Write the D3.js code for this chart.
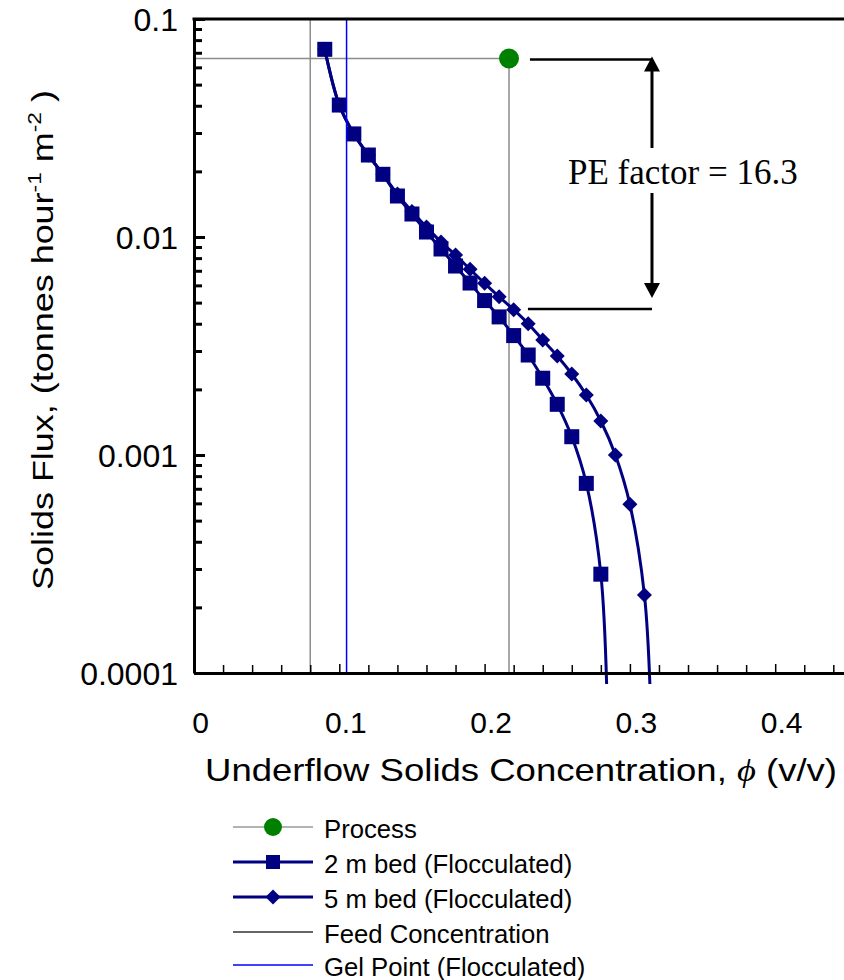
<!DOCTYPE html>
<html>
<head>
<meta charset="utf-8">
<script src="https://cdn.jsdelivr.net/npm/d3@7"></script>
<style>
  body { margin: 0; background: #fff; }
  svg { display: block; }
</style>
</head>
<body>
<svg id="chart" width="844" height="980" font-family='"Liberation Sans", Arial, sans-serif'></svg>
<script>
// ---------------- data ----------------
const xTickValues = [0, 0.1, 0.2, 0.3, 0.4];
const xTickLabels = ["0", "0.1", "0.2", "0.3", "0.4"];
const yTickValues = [0.0001, 0.001, 0.01, 0.1];
const yTickLabels = ["0.0001", "0.001", "0.01", "0.1"];

const phi2m  = [0.09,0.10,0.11,0.12,0.13,0.14,0.15,0.16,0.17,0.18,0.19,0.20,0.21,0.22,0.23,0.24,0.25,0.26,0.27,0.28];
const flux2m = [0.0726,0.0403,0.0297,0.02377,0.01939,0.01542,0.01275,0.01054,0.00881,0.00736,0.00615,0.00511,0.0043,0.00353,0.002875,0.00225,0.001708,0.001213,0.000741,0.000284];
const tailPhi2m = [0.2844], tailFlux2m = [0.00007];

const phi5m  = [0.09,0.10,0.11,0.12,0.13,0.14,0.15,0.16,0.17,0.18,0.19,0.20,0.21,0.22,0.23,0.24,0.25,0.26,0.27,0.28,0.29,0.30,0.31];
const flux5m = [0.0726,0.0403,0.0297,0.02377,0.01939,0.01574,0.01309,0.01112,0.00948,0.00826,0.00711,0.00613,0.00532,0.00464,0.0040,0.00337,0.002845,0.002353,0.001884,0.001432,0.0010,0.000594,0.000228];
const tailPhi5m = [0.3143], tailFlux5m = [0.00007];

const processPhi  = [0, 0.2168, 0.2168];
const processFlux = [0.0659, 0.0659, 0.0001];
const processMarkerIndex = 1;

const feedPhi = 0.08;
const gelPhi = 0.105;

const peLabel = "PE factor = 16.3";
const peTopFlux = 0.0652, peBottomFlux = 0.00468;
const peLineStartPhi = 0.2312, peArrowPhi = 0.3152;

const legendLabels = ["Process", "2 m bed (Flocculated)", "5 m bed (Flocculated)", "Feed Concentration", "Gel Point (Flocculated)"];

// ---------------- layout ----------------
const SANS = '"Liberation Sans", Arial, sans-serif';
const SERIF = '"Liberation Serif", "Times New Roman", serif';
const svg = d3.select("#chart");
const L = 194, T = 19, B = 673;
const x = d3.scaleLinear().domain([0, 0.45]).range([L, L + 0.45 * 1453]);
const y = d3.scaleLog().domain([0.0001, 0.1]).range([B, T]);

const navy = "#000080", green = "#008000", grey = "#8c8c8c", blue = "#0000ff";

svg.append("defs").append("clipPath").attr("id", "plotclip")
  .append("rect").attr("x", L).attr("y", T).attr("width", x(0.45) - L).attr("height", 684 - T);

const plot = svg.append("g").attr("clip-path", "url(#plotclip)");

// process lines
const procPts = processPhi.map((p, i) => [p, processFlux[i]]);
plot.append("path")
  .attr("d", d3.line().x(d => x(d[0])).y(d => y(d[1]))(procPts))
  .attr("fill", "none").attr("stroke", grey).attr("stroke-width", 1.5);

// feed line
plot.append("line")
  .attr("x1", x(feedPhi)).attr("x2", x(feedPhi)).attr("y1", y(0.1)).attr("y2", y(0.0001))
  .attr("stroke", grey).attr("stroke-width", 1.5);

// series
const smooth = d3.line().x(d => x(d[0])).y(d => y(d[1])).curve(d3.curveCatmullRom.alpha(0.5));
const pts2m = phi2m.map((p, i) => [p, flux2m[i]]);
const pts5m = phi5m.map((p, i) => [p, flux5m[i]]);
const line2m = pts2m.concat(tailPhi2m.map((p, i) => [p, tailFlux2m[i]]));
const line5m = pts5m.concat(tailPhi5m.map((p, i) => [p, tailFlux5m[i]]));

plot.append("path").attr("d", smooth(line2m))
  .attr("fill", "none").attr("stroke", navy).attr("stroke-width", 3);
plot.selectAll("rect.sq").data(pts2m).enter().append("rect")
  .attr("class", "sq")
  .attr("x", d => x(d[0]) - 7.5).attr("y", d => y(d[1]) - 7.5)
  .attr("width", 15).attr("height", 15).attr("fill", navy);

plot.append("path").attr("d", smooth(line5m))
  .attr("fill", "none").attr("stroke", navy).attr("stroke-width", 3);
const diamond = (cx, cy, r) => `M${cx},${cy - r}L${cx + r},${cy}L${cx},${cy + r}L${cx - r},${cy}Z`;
plot.selectAll("path.dm").data(pts5m).enter().append("path")
  .attr("class", "dm")
  .attr("d", d => diamond(x(d[0]), y(d[1]), 7.5)).attr("fill", navy);

// gel point
plot.append("line")
  .attr("x1", x(gelPhi)).attr("x2", x(gelPhi)).attr("y1", y(0.1)).attr("y2", y(0.0001))
  .attr("stroke", blue).attr("stroke-width", 1.5);

// process marker
plot.append("circle")
  .attr("cx", x(processPhi[processMarkerIndex])).attr("cy", y(processFlux[processMarkerIndex]))
  .attr("r", 10).attr("fill", green);

// ---------------- axes ----------------
const minorY = [];
[0.0001, 0.001, 0.01].forEach(d => { for (let k = 2; k <= 9; k++) minorY.push(d * k); });
svg.append("g").attr("transform", `translate(${L},0)`)
  .call(d3.axisLeft(y).tickValues(minorY).tickSize(-8).tickFormat(""))
  .call(g => g.select(".domain").remove())
  .selectAll("line").attr("stroke", "#000").attr("stroke-width", 3);

const yAxis = svg.append("g").attr("transform", `translate(${L},0)`)
  .call(d3.axisLeft(y).tickValues(yTickValues).tickSizeInner(-11).tickSizeOuter(0).tickPadding(16)
    .tickFormat((d, i) => yTickLabels[i]));
yAxis.attr("font-family", SANS);
yAxis.select(".domain").attr("stroke", "#000").attr("stroke-width", 3);
yAxis.selectAll("line").attr("stroke", "#000").attr("stroke-width", 3);
yAxis.selectAll("text").attr("font-size", 32).attr("fill", "#000").attr("dy", "0.36em");

const minorX = d3.range(0, 46, 2).map(v => v / 100).filter(v => Math.round(v * 100) % 10 !== 0);
svg.append("g").attr("transform", `translate(0,${B})`)
  .call(d3.axisBottom(x).tickValues(minorX).tickSize(-8).tickFormat(""))
  .call(g => g.select(".domain").remove())
  .selectAll("line").attr("stroke", "#000").attr("stroke-width", 1.5);

const xAxis = svg.append("g").attr("transform", `translate(0,${B})`)
  .call(d3.axisBottom(x).tickValues(xTickValues).tickSizeInner(-9).tickSizeOuter(0)
    .tickFormat((d, i) => xTickLabels[i]));
xAxis.attr("font-family", SANS);
xAxis.select(".domain").attr("stroke", "#000").attr("stroke-width", 3);
xAxis.selectAll("line").attr("stroke", "#000").attr("stroke-width", 1.5);
xAxis.selectAll("text").attr("font-size", 30).attr("fill", "#000")
  .attr("y", 60).attr("dy", 0).attr("dx", 6);

// top border
svg.append("line").attr("x1", L - 1.5).attr("x2", x(0.45)).attr("y1", T).attr("y2", T)
  .attr("stroke", "#000").attr("stroke-width", 3);

// axis titles
const xt = svg.append("text").attr("x", 205).attr("y", 781).attr("font-size", 32)
  .attr("font-family", SANS)
  .attr("textLength", 632).attr("lengthAdjust", "spacingAndGlyphs");
xt.append("tspan").text("Underflow Solids Concentration, ");
xt.append("tspan").attr("font-family", SERIF).attr("font-style", "italic").text("\u03D5");
xt.append("tspan").text(" (v/v)");

const yt = svg.append("text").attr("transform", "translate(53,590) rotate(-90)")
  .attr("x", 0).attr("y", 0).attr("font-size", 30).attr("font-family", SANS)
  .attr("textLength", 500).attr("lengthAdjust", "spacingAndGlyphs");
yt.append("tspan").text("Solids Flux,  (tonnes hour");
yt.append("tspan").attr("font-size", 19).attr("dy", -12).text("-1");
yt.append("tspan").attr("dy", 12).text("  m");
yt.append("tspan").attr("font-size", 19).attr("dy", -12).text("-2");
yt.append("tspan").attr("dy", 12).text(" )");

// ---------------- PE annotation ----------------
const ann = svg.append("g");
const ax = x(peArrowPhi), yTop = y(peTopFlux), yBot = y(peBottomFlux);
ann.append("line").attr("x1", x(peLineStartPhi)).attr("x2", ax).attr("y1", yTop).attr("y2", yTop)
  .attr("stroke", "#000").attr("stroke-width", 2.5);
ann.append("line").attr("x1", x(peLineStartPhi) - 2).attr("x2", ax).attr("y1", yBot).attr("y2", yBot)
  .attr("stroke", "#000").attr("stroke-width", 2.5);
const tipTop = yTop - 3, tipBot = yBot - 11;
ann.append("line").attr("x1", ax).attr("x2", ax).attr("y1", tipTop + 10).attr("y2", 148)
  .attr("stroke", "#000").attr("stroke-width", 3);
ann.append("line").attr("x1", ax).attr("x2", ax).attr("y1", 193).attr("y2", tipBot - 10)
  .attr("stroke", "#000").attr("stroke-width", 3);
ann.append("path").attr("d", `M${ax},${tipTop}L${ax + 8},${tipTop + 15}L${ax - 8},${tipTop + 15}Z`).attr("fill", "#000");
ann.append("path").attr("d", `M${ax},${tipBot}L${ax + 8},${tipBot - 15}L${ax - 8},${tipBot - 15}Z`).attr("fill", "#000");
ann.append("text").attr("x", 568).attr("y", 184)
  .attr("font-family", SERIF).attr("font-size", 35)
  .attr("fill", "#000").text(peLabel);

// ---------------- legend ----------------
const rows = [827, 862, 897, 932, 965];
const lg = svg.append("g");
const lx1 = 233, lx2 = 313, lm = 273;
// Process
lg.append("line").attr("x1", lx1).attr("x2", lx2).attr("y1", rows[0]).attr("y2", rows[0]).attr("stroke", "#999").attr("stroke-width", 1.5);
lg.append("circle").attr("cx", lm).attr("cy", rows[0]).attr("r", 9).attr("fill", green);
// 2 m
lg.append("line").attr("x1", lx1).attr("x2", lx2).attr("y1", rows[1]).attr("y2", rows[1]).attr("stroke", navy).attr("stroke-width", 3);
lg.append("rect").attr("x", lm - 7).attr("y", rows[1] - 7).attr("width", 14).attr("height", 14).attr("fill", navy);
// 5 m
lg.append("line").attr("x1", lx1).attr("x2", lx2).attr("y1", rows[2]).attr("y2", rows[2]).attr("stroke", navy).attr("stroke-width", 3);
lg.append("path").attr("d", diamond(lm, rows[2], 7.5)).attr("fill", navy);
// feed
lg.append("line").attr("x1", lx1).attr("x2", lx2).attr("y1", rows[3]).attr("y2", rows[3]).attr("stroke", "#333").attr("stroke-width", 1.5);
// gel
lg.append("line").attr("x1", lx1).attr("x2", lx2).attr("y1", rows[4]).attr("y2", rows[4]).attr("stroke", blue).attr("stroke-width", 1.5);
legendLabels.forEach((t, i) => {
  lg.append("text").attr("x", 324).attr("y", rows[i] + 11).attr("font-size", 25.7)
    .attr("font-family", SANS).attr("fill", "#000").text(t);
});
</script>
</body>
</html>
